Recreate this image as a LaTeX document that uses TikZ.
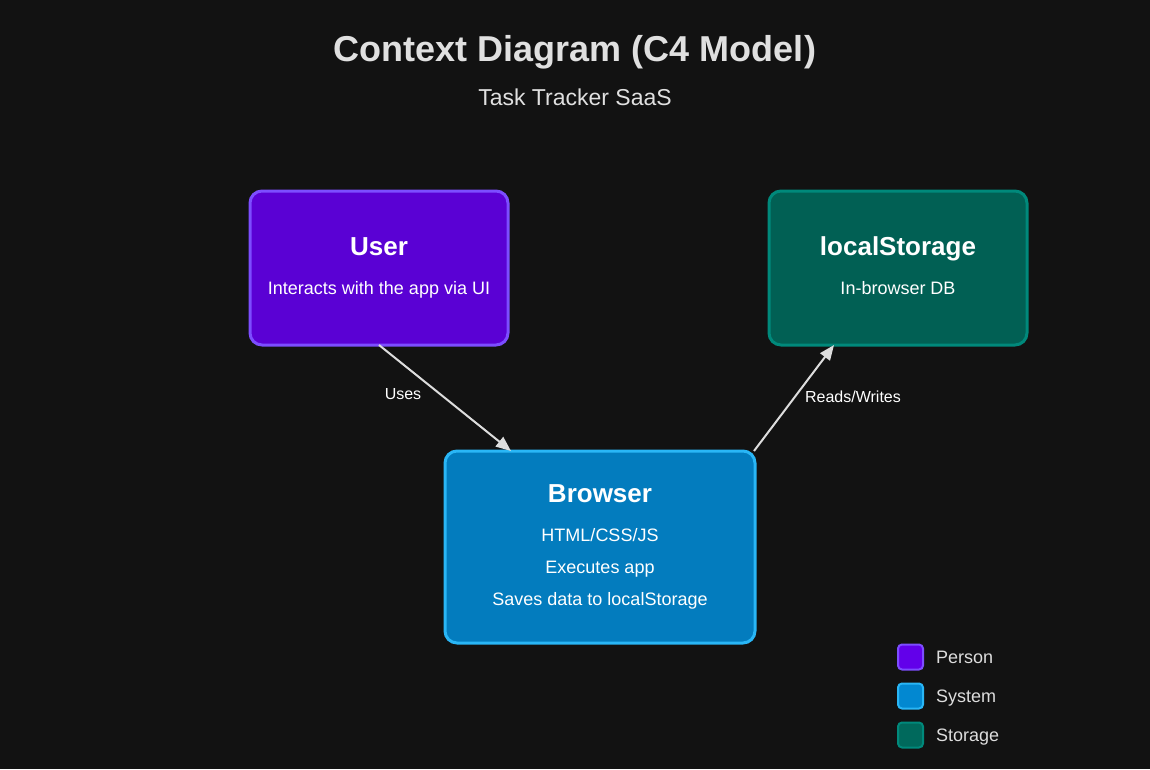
\documentclass[tikz,border=0pt]{standalone}
\usepackage{fontspec}
\setmainfont{Liberation Sans}
\usetikzlibrary{arrows.meta,calc}
\definecolor{bgc}{HTML}{121212}
\definecolor{titlec}{HTML}{E0E0E0}
\definecolor{personfill}{HTML}{6200EA}
\definecolor{persondraw}{HTML}{7C4DFF}
\definecolor{systemfill}{HTML}{0288D1}
\definecolor{systemdraw}{HTML}{29B6F6}
\definecolor{storefill}{HTML}{00695C}
\definecolor{storedraw}{HTML}{00897B}
\definecolor{arrowc}{HTML}{DDDDDD}
\definecolor{legendtext}{HTML}{DDDDDD}
\tikzset{
  box/.style={rectangle, rounded corners=12pt, line width=3pt, outer sep=0pt, inner sep=0pt, fill opacity=0.9},
  boxtitle/.style={anchor=base, text=white, font=\fontsize{26}{30}\selectfont\bfseries, inner sep=0pt},
  boxtext/.style={anchor=base, text=white, font=\fontsize{18}{20}\selectfont, inner sep=0pt},
  edgelabel/.style={text=white, font=\fontsize{16}{18}\selectfont, inner sep=0pt},
  conn/.style={draw=arrowc, line width=2pt, -{Triangle[length=15pt,width=12pt]}},
  legendsq/.style={rectangle, rounded corners=4pt, line width=2pt, minimum size=25pt, inner sep=0pt, outer sep=0pt},
  legendtxt/.style={anchor=base west, text=legendtext, font=\fontsize{18}{20}\selectfont, inner sep=0pt},
}
\begin{document}
\begin{tikzpicture}[x=1pt,y=-1pt]
\useasboundingbox (0,0) rectangle (1150,769);
\fill[bgc] (0,0) rectangle (1150,769);

\node[anchor=base, text=titlec, font=\fontsize{36}{40}\selectfont\bfseries, inner sep=0pt] (title) at (575,61) {Context Diagram (C4 Model)};
\node[anchor=base, text=titlec, font=\fontsize{23}{26}\selectfont, inner sep=0pt] (subtitle) at (575,105) {Task Tracker SaaS};

% boxes
\node[box, fill=personfill, draw=persondraw, minimum width=258pt, minimum height=154pt] (user) at (379,268) {};
\node[box, fill=storefill, draw=storedraw, minimum width=258pt, minimum height=154pt] (store) at (898,268) {};
\node[box, fill=systemfill, draw=systemdraw, minimum width=310pt, minimum height=192pt] (browser) at (600,547) {};

\node[boxtitle] (usert) at (379,255) {User};
\node[boxtext] (userd) at (379,294) {Interacts with the app via UI};

\node[boxtitle] (storet) at (898,255) {localStorage};
\node[boxtext] (stored) at (898,294) {In-browser DB};

\node[boxtitle] (browsert) at (600,502) {Browser};
\node[boxtext] (browserd1) at (600,541) {HTML/CSS/JS};
\node[boxtext] (browserd2) at (600,573) {Executes app};
\node[boxtext] (browserd3) at (600,605) {Saves data to localStorage};

% connectors
\draw[conn] (user.south) -- ([xshift=66pt]browser.north west);
\draw[conn] ([xshift=-1pt]browser.north east) -- ([xshift=65pt]store.south west);
\node[edgelabel] (uses) at (403,394) {Uses};
\node[edgelabel] (rw) at (853,397) {Reads/Writes};

% legend
\node[legendsq, fill=personfill, draw=persondraw] (lp) at (910.5,657) {};
\node[legendsq, fill=systemfill, draw=systemdraw] (ls) at (910.5,696) {};
\node[legendsq, fill=storefill, draw=storedraw] (lst) at (910.5,735) {};
\node[legendtxt] (lpt) at (936,663.5) {Person};
\node[legendtxt] (lst1) at (936,702.5) {System};
\node[legendtxt] (lstt) at (936,741.5) {Storage};
\end{tikzpicture}
\end{document}
